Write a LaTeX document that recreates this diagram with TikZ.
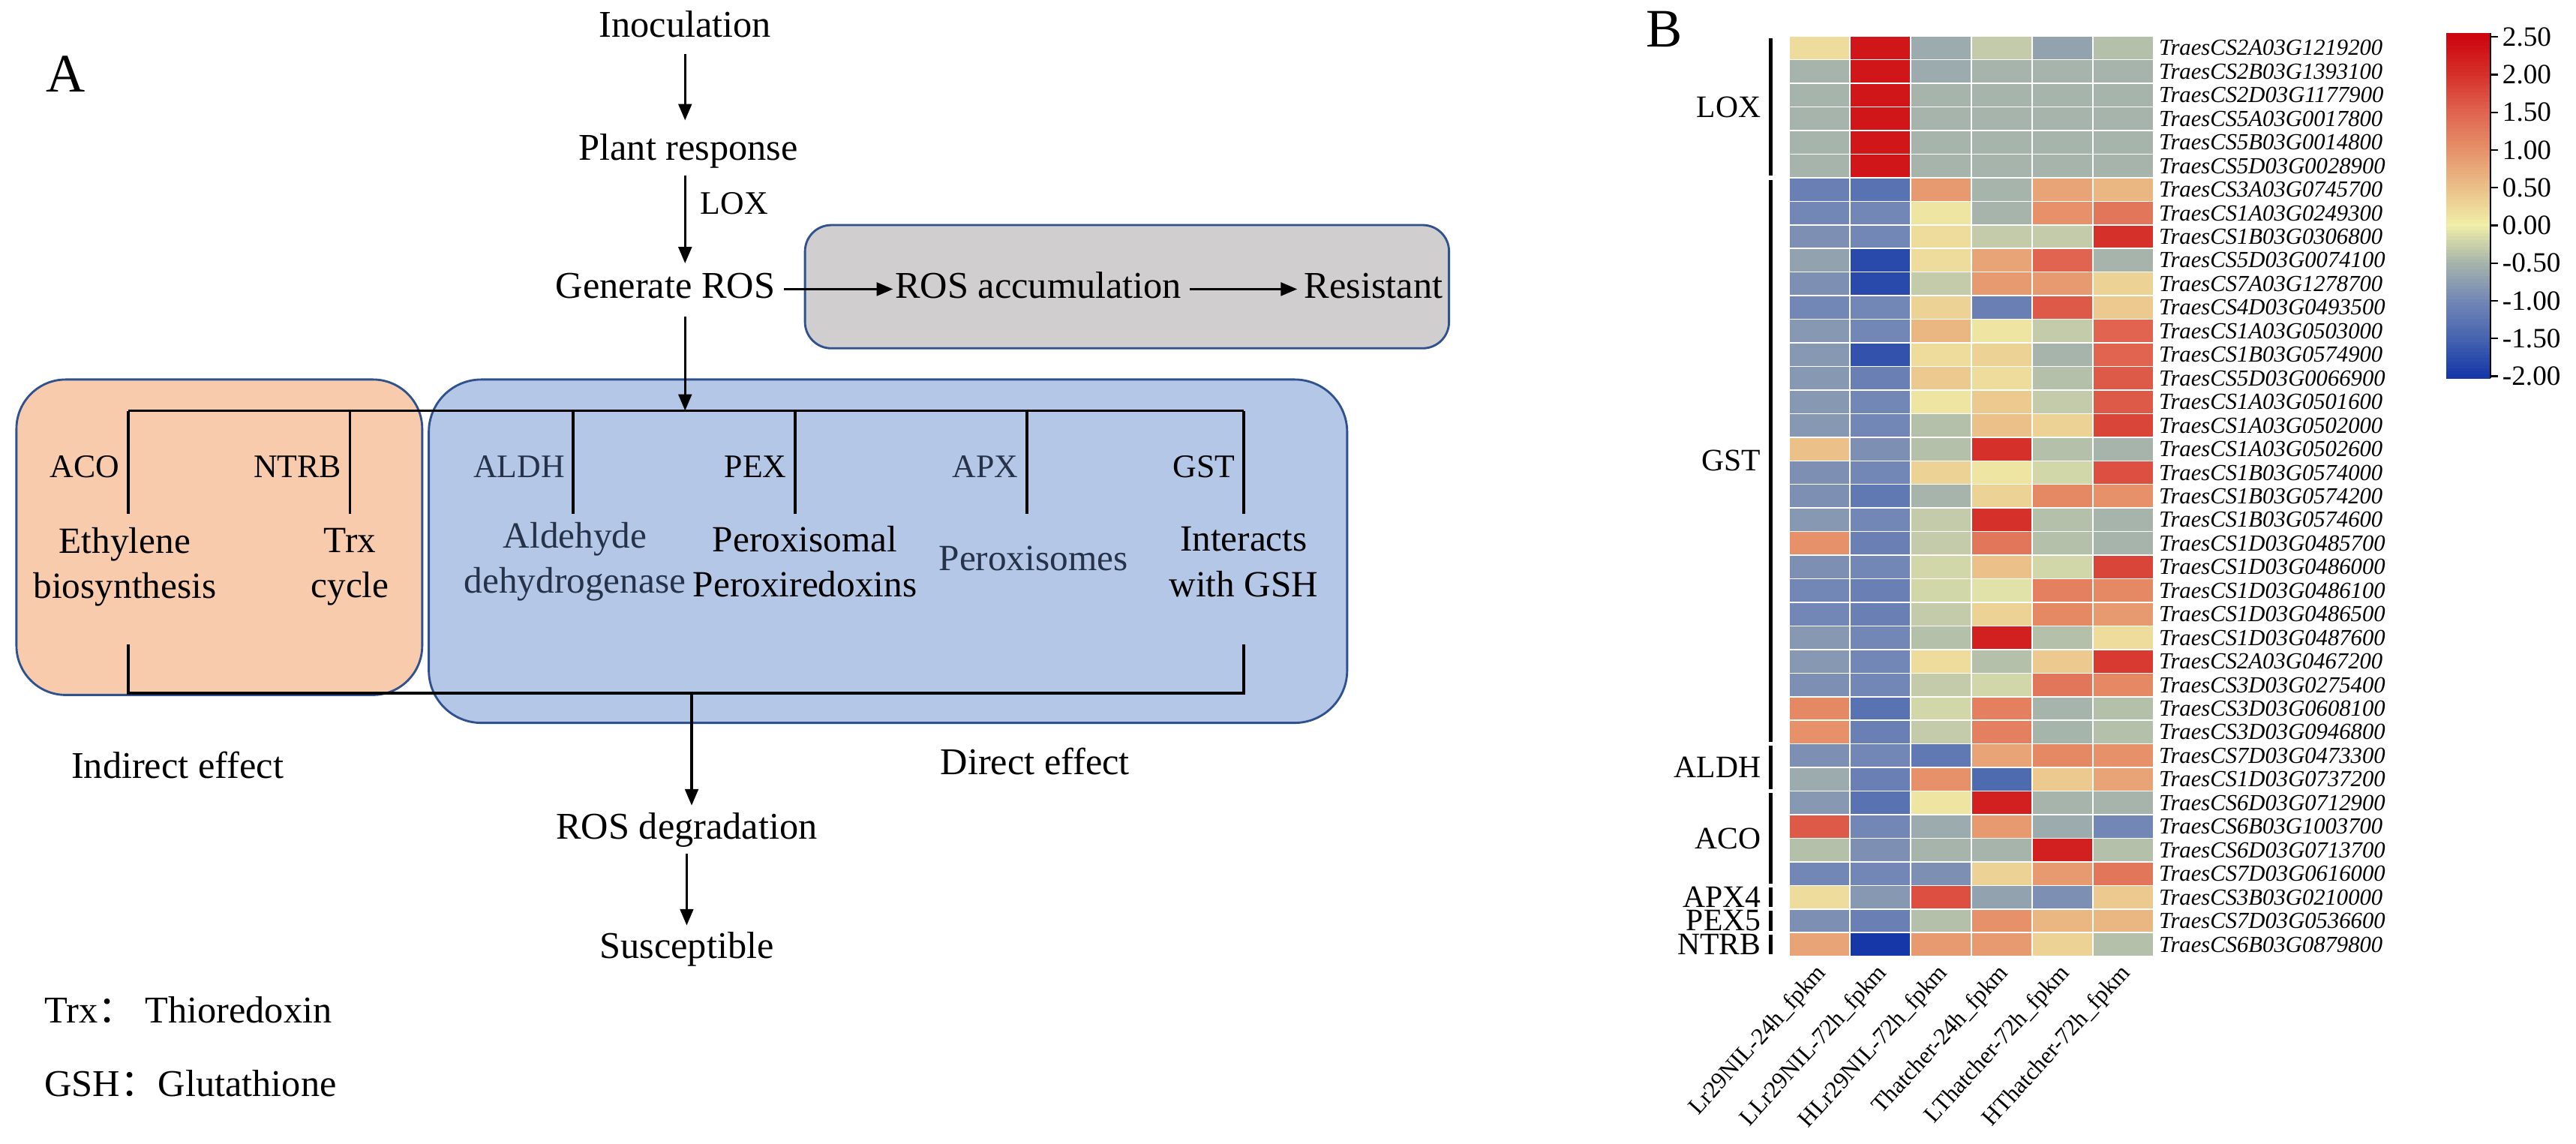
\documentclass[tikz,border=0pt]{standalone}
\usepackage{fontspec}
\setmainfont{Liberation Serif}
\newfontfamily\cjk{Noto Sans CJK SC}
\usetikzlibrary{arrows.meta}
\definecolor{boxedge}{HTML}{2F528F}
\definecolor{orangefill}{HTML}{F8CBAD}
\definecolor{bluefill}{HTML}{B4C7E7}
\definecolor{grayfill}{HTML}{D0CECE}
\definecolor{slate}{HTML}{26324A}

\newcommand\hminterp[8]{%
  \pgfmathsetmacro\hmt{(\hmv-(#1))/((#2)-(#1))}%
  \pgfmathtruncatemacro\hmr{round(#3+\hmt*(#6-#3))}%
  \pgfmathtruncatemacro\hmg{round(#4+\hmt*(#7-#4))}%
  \pgfmathtruncatemacro\hmb{round(#5+\hmt*(#8-#5))}%
  \definecolor{cellc}{RGB}{\hmr,\hmg,\hmb}}
\newcommand\hmcolor[1]{%
  \pgfmathsetmacro\hmv{max(-2,min(2.5,#1))}%
  \ifdim\hmv pt<-1.5pt \hminterp{-2}{-1.5}{22}{55}{168}{70}{100}{175}%
  \else\ifdim\hmv pt<-1pt \hminterp{-1.5}{-1}{70}{100}{175}{115}{135}{182}%
  \else\ifdim\hmv pt<-0.5pt \hminterp{-1}{-0.5}{115}{135}{182}{166}{180}{171}%
  \else\ifdim\hmv pt<0pt \hminterp{-0.5}{0}{166}{180}{171}{240}{238}{168}%
  \else\ifdim\hmv pt<0.5pt \hminterp{0}{0.5}{240}{238}{168}{235}{192}{137}%
  \else\ifdim\hmv pt<1pt \hminterp{0.5}{1}{235}{192}{137}{230}{145}{105}%
  \else\ifdim\hmv pt<1.5pt \hminterp{1}{1.5}{230}{145}{105}{224}{100}{80}%
  \else\ifdim\hmv pt<2pt \hminterp{1.5}{2}{224}{100}{80}{214}{48}{42}%
  \else \hminterp{2}{2.5}{214}{48}{42}{205}{5}{15}%
  \fi\fi\fi\fi\fi\fi\fi\fi}

\tikzset{
  txt/.style={font=\fontsize{23}{27}\selectfont, align=center, inner sep=1pt, text height=16pt, text depth=5pt},
  boxtxt/.style={font=\fontsize{22.5}{27.5}\selectfont, align=center, inner sep=1pt},
  lbl/.style={font=\fontsize{20}{22}\selectfont, inner sep=0pt},
  arr/.style={-{Triangle[length=10pt,width=8pt]}, line width=1.6pt},
  conn/.style={line width=1.8pt},
  panel/.style={font=\fontsize{33}{33}\selectfont, inner sep=0pt},
  gene/.style={anchor=west, font=\fontsize{14}{14}\selectfont\itshape, inner sep=0pt},
  collbl/.style={anchor=east, rotate=48, font=\fontsize{14.5}{14.5}\selectfont, inner sep=0pt},
  grp/.style={anchor=east, font=\fontsize{19}{19}\selectfont, inner sep=0pt},
  brk/.style={line width=2.2pt},
  cbl/.style={anchor=west, font=\fontsize{17}{17}\selectfont, inner sep=0pt},
  effbox/.style={draw=boxedge, line width=1.3pt},
}

\begin{document}
\begin{tikzpicture}[x=1pt,y=-1pt]
\useasboundingbox[fill=white] (0,0) rectangle (1568,696);

% ---------------- Panel A ----------------
\node[panel] (A) at (40,45) {A};

% boxes
\draw[effbox, fill=grayfill, rounded corners=16pt] (490,137) rectangle (882,212);
\draw[effbox, fill=orangefill, rounded corners=30pt] (10,231) rectangle (257,423);
\draw[effbox, fill=bluefill, rounded corners=32pt] (261,231) rectangle (820,440);

% spine nodes
\node[txt] (inoc) at (417,17) {Inoculation};
\node[txt] (plant) at (419,92) {Plant response};
\node[txt] (gen) at (405,176) {Generate ROS};
\node[txt] (acc) at (632,176) {ROS accumulation};
\node[txt] (res) at (836,176) {Resistant};
\node[txt] (deg) at (418,505) {ROS degradation};
\node[txt] (sus) at (418,578) {Susceptible};
\node[lbl] (loxlbl) at (447,124) {LOX};

\draw[arr, shorten <=4pt, shorten >=7pt] (inoc.south) -- (inoc.south |- plant.north);
\draw[arr, shorten <=3pt, shorten >=4pt] (inoc |- plant.south) -- (inoc |- gen.north);
\draw[arr, shorten <=4pt, shorten >=0pt] (gen.east) -- (acc.west);
\draw[arr, shorten <=4pt, shorten >=3pt] (acc.east) -- (res.west);

% branch structure
\coordinate (topbar) at (417,250);
\coordinate (tACO) at (78,250);
\coordinate (tNTRB) at (213,250);
\coordinate (tALDH) at (349,250);
\coordinate (tPEX) at (484,250);
\coordinate (tAPX) at (625,250);
\coordinate (tGST) at (757,250);
\draw[arr, shorten <=5pt] (inoc |- gen.south) -- (topbar);
\draw[conn] (tACO) -- (tGST);
\foreach \p in {tACO,tNTRB,tALDH,tPEX,tAPX,tGST}
  \draw[conn] (\p) -- ++(0,63);

\node[lbl, anchor=east] (lACO) at (73,284) {ACO};
\node[lbl, anchor=east] (lNTRB) at (208,284) {NTRB};
\node[lbl, anchor=east, text=slate] (lALDH) at (344,284) {ALDH};
\node[lbl, anchor=east] (lPEX) at (479,284) {PEX};
\node[lbl, anchor=east, text=slate] (lAPX) at (620,284) {APX};
\node[lbl, anchor=east] (lGST) at (752,284) {GST};

\node[boxtxt] (eth) at (76,345) {Ethylene\\biosynthesis};
\node[boxtxt] (trx) at (213,345) {Trx\\cycle};
\node[boxtxt, text=slate] (ald) at (350,342) {Aldehyde\\dehydrogenase};
\node[boxtxt] (pex) at (490,342) {Peroxisomal\\Peroxiredoxins};
\node[boxtxt, text=slate] (apx) at (629,340) {Peroxisomes};
\node[boxtxt] (gst) at (757,342) {Interacts\\with GSH};

\coordinate (bl) at (78,392);
\coordinate (br) at (757,392);
\coordinate (bot) at (421,422);
\draw[conn] (bl) |- (bot) -| (br);
\draw[arr, shorten >=3pt] (bot) -- (bot |- deg.north);
\draw[arr, shorten <=3pt, shorten >=3pt] (deg.south) -- (sus.north);

\node[txt] (ind) at (108,468) {Indirect effect};
\node[txt] (dir) at (630,466) {Direct effect};

\node[txt, anchor=west] (trxdef) at (26,617) {Trx{\cjk ：} Thioredoxin};
\node[txt, anchor=west] (gshdef) at (26,662) {GSH{\cjk ：}Glutathione};

% ---------------- Panel B ----------------
\node[panel] (B) at (1013,18) {B};

\def\hx{1089}\def\hy{22}\def\cw{37}\def\rh{14.36}
\foreach \vals [count=\r] in {
 {0.2,2.3,-0.6,-0.3,-0.7,-0.4},
 {-0.5,2.3,-0.6,-0.5,-0.5,-0.5},
 {-0.5,2.3,-0.5,-0.5,-0.5,-0.5},
 {-0.5,2.3,-0.5,-0.5,-0.5,-0.5},
 {-0.5,2.3,-0.5,-0.5,-0.5,-0.5},
 {-0.5,2.3,-0.5,-0.5,-0.5,-0.5},
 {-1.1,-1.3,0.9,-0.5,0.8,0.6},
 {-1.0,-1.0,0.1,-0.5,1.0,1.3},
 {-0.9,-1.0,0.2,-0.3,-0.3,2.0},
 {-0.7,-1.8,0.2,0.8,1.5,-0.5},
 {-0.9,-1.8,-0.3,0.9,0.9,0.3},
 {-1.0,-1.0,0.3,-1.1,1.6,0.4},
 {-0.8,-1.0,0.6,0.1,-0.3,1.5},
 {-0.8,-1.7,0.2,0.3,-0.5,1.5},
 {-0.8,-1.1,0.4,0.2,-0.4,1.6},
 {-0.8,-1.0,0.1,0.4,-0.3,1.6},
 {-0.8,-1.0,-0.4,0.5,0.3,1.8},
 {0.5,-0.9,-0.4,2.0,-0.4,-0.5},
 {-0.9,-1.0,0.3,0.1,-0.2,1.7},
 {-0.9,-1.2,-0.5,0.3,1.1,1.0},
 {-0.8,-1.0,-0.3,2.0,-0.4,-0.5},
 {1.0,-1.1,-0.3,1.3,-0.4,-0.5},
 {-0.9,-1.0,-0.2,0.5,-0.2,1.8},
 {-1.0,-1.1,-0.2,-0.1,1.2,1.1},
 {-1.0,-1.1,-0.3,0.3,1.1,0.9},
 {-0.8,-1.0,-0.4,2.2,-0.4,0.2},
 {-0.8,-1.0,0.2,-0.4,0.4,1.9},
 {-0.9,-1.0,-0.3,-0.2,1.3,1.1},
 {1.1,-1.3,-0.2,1.2,-0.5,-0.4},
 {1.0,-1.1,-0.3,1.2,-0.5,-0.4},
 {-0.9,-1.0,-1.2,0.8,1.1,1.0},
 {-0.6,-1.1,1.0,-1.4,0.4,0.8},
 {-0.8,-1.3,0.1,2.2,-0.5,-0.5},
 {1.6,-1.0,-0.6,0.9,-0.6,-1.0},
 {-0.4,-0.9,-0.5,-0.5,2.2,-0.4},
 {-1.0,-1.0,-0.9,0.3,0.9,1.3},
 {0.2,-0.8,1.7,-0.7,-0.9,0.4},
 {-0.9,-1.1,-0.4,1.0,0.6,0.6},
 {0.8,-2.0,0.9,0.9,0.3,-0.4}} {
  \foreach \val [count=\c] in \vals {
    \hmcolor{\val}
    \fill[cellc, draw=white, line width=0.7pt] ({\hx+(\c-1)*\cw},{\hy+(\r-1)*\rh}) rectangle ++(\cw,\rh);
  }
}

\foreach \g [count=\i] in {TraesCS2A03G1219200,TraesCS2B03G1393100,TraesCS2D03G1177900,TraesCS5A03G0017800,TraesCS5B03G0014800,TraesCS5D03G0028900,TraesCS3A03G0745700,TraesCS1A03G0249300,TraesCS1B03G0306800,TraesCS5D03G0074100,TraesCS7A03G1278700,TraesCS4D03G0493500,TraesCS1A03G0503000,TraesCS1B03G0574900,TraesCS5D03G0066900,TraesCS1A03G0501600,TraesCS1A03G0502000,TraesCS1A03G0502600,TraesCS1B03G0574000,TraesCS1B03G0574200,TraesCS1B03G0574600,TraesCS1D03G0485700,TraesCS1D03G0486000,TraesCS1D03G0486100,TraesCS1D03G0486500,TraesCS1D03G0487600,TraesCS2A03G0467200,TraesCS3D03G0275400,TraesCS3D03G0608100,TraesCS3D03G0946800,TraesCS7D03G0473300,TraesCS1D03G0737200,TraesCS6D03G0712900,TraesCS6B03G1003700,TraesCS6D03G0713700,TraesCS7D03G0616000,TraesCS3B03G0210000,TraesCS7D03G0536600,TraesCS6B03G0879800}
  \node[gene] (g\i) at (1314,{\hy+(\i-0.5)*\rh}) {\g};

\foreach \t [count=\i] in {Lr29NIL-24h\_fpkm,LLr29NIL-72h\_fpkm,HLr29NIL-72h\_fpkm,Thatcher-24h\_fpkm,LThatcher-72h\_fpkm,HThatcher-72h\_fpkm}
  \node[collbl] (col\i) at ({\hx+(\i-0.5)*\cw+2},590) {\t};

% group brackets and labels
\foreach \a/\b/\name/\lab in {1/6/gLOX/LOX,7/30/gGST/GST,31/32/gALDH/ALDH,33/36/gACO/ACO,37/37/gAPX/APX4,38/38/gPEX/PEX5,39/39/gNTRB/NTRB} {
  \draw[brk] (1078,{\hy+(\a-1)*\rh+1.2}) -- (1078,{\hy+\b*\rh-1.2});
  \node[grp] (\name) at (1072,{\hy+(\a+\b-1)*\rh/2}) {\lab};
}

% colour bar
\def\cbh{2}
\foreach \k in {0,...,104} {
  \pgfmathsetmacro\cv{2.5-(20+(\k+0.5)*\cbh-22.5)*4.5/206.5}
  \hmcolor{\cv}
  \fill[cellc] (1489,{20+\k*\cbh}) rectangle ++(27,{\cbh+0.4});
}
\draw[line width=1.1pt] (1516,20) -- (1516,230);
\foreach \lab [count=\i] in {2.50,2.00,1.50,1.00,0.50,0.00,-0.50,-1.00,-1.50,-2.00} {
  \draw[line width=1.1pt] (1516,{22.5+(\i-1)*22.94}) -- ++(4.5,0);
  \node[cbl] (cb\i) at (1523,{22.5+(\i-1)*22.94}) {\lab};
}
\end{tikzpicture}
\end{document}
